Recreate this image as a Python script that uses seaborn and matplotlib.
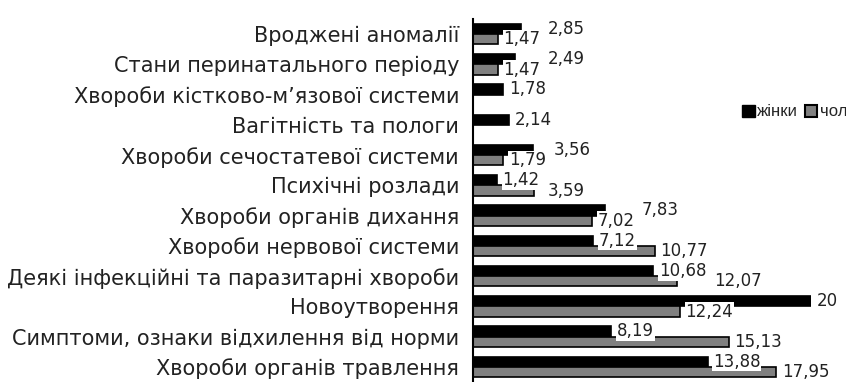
import numpy as np
import pandas as pd
import seaborn as sns
import matplotlib.pyplot as plt
from matplotlib.patches import Patch

# Data
categories = ['Вроджені аномалії', 'Стани перинатального періоду',
              'Хвороби кістково-м’язової системи', 'Вагітність та пологи',
              'Хвороби сечостатевої системи', 'Психічні розлади',
              'Хвороби органів дихання', 'Хвороби нервової системи',
              'Деякі інфекційні та паразитарні хвороби', 'Новоутворення',
              'Симптоми, ознаки відхилення від норми', 'Хвороби органів травлення']
women = [2.85, 2.49, 1.78, 2.14, 3.56, 1.42, 7.83, 7.12, 10.68, 20, 8.19, 13.88]
men = [1.47, 1.47, np.nan, np.nan, 1.79, 3.59, 7.02, 10.77, 12.07, 12.24, 15.13, 17.95]
series = ['жінки', 'чол']

df = pd.DataFrame({
    'cat': categories * 2,
    'val': women + men,
    'sex': [series[0]] * len(categories) + [series[1]] * len(categories),
})

sns.set_style('white')
plt.rcParams['font.family'] = ['DejaVu Sans']

fig = plt.figure(figsize=(8.46, 3.82), dpi=100)
ax = fig.add_axes([473 / 846, 0.0, (811 - 473) / 846, 1 - 19 / 382])

sns.barplot(data=df, y='cat', x='val', hue='sex', orient='h', order=categories,
            hue_order=series, palette=['black', '#808080'], width=0.68,
            edgecolor='black', linewidth=1.2, ax=ax, legend=False)

ax.set_xlim(0, 20)
ax.set_ylim(11.5, -0.5)
ax.set_xlabel('')
ax.set_ylabel('')
ax.set_xticks([])
ax.tick_params(axis='y', length=0, pad=10, labelsize=15, labelcolor='#222222')
for s in ['top', 'right', 'bottom']:
    ax.spines[s].set_visible(False)
ax.spines['left'].set_color('black')
ax.spines['left'].set_linewidth(1.5)

# collect bar ends per row, then label them left to right without overlap
rows = {}
for c in ax.containers:
    for p in c:
        w = p.get_width()
        if np.isnan(w) or w == 0:
            continue
        yc = p.get_y() + p.get_height() / 2
        rows.setdefault(int(round(yc)), []).append((w, yc))

renderer = fig.canvas.get_renderer()
inv = ax.transData.inverted()
for idx, items in rows.items():
    x_next = 0
    for w, yc in sorted(items):
        x = max(w, x_next)
        t = ax.annotate(f"{w:g}".replace('.', ','), xy=(x, yc), xytext=(4, 0),
                        textcoords='offset points', ha='left', va='center',
                        fontsize=12, color='#222222',
                        bbox=dict(facecolor='white', edgecolor='none', pad=0.5))
        bb = t.get_window_extent(renderer)
        x_next = inv.transform((bb.x1 + 2, 0))[0]

handles = [Patch(facecolor='black', edgecolor='black'),
           Patch(facecolor='#808080', edgecolor='black', linewidth=1.5)]
fig.legend(handles, series, loc='center left', bbox_to_anchor=(742 / 846, 1 - 112 / 382),
           ncol=2, frameon=False, handlelength=0.75, handleheight=0.75,
           prop={'family': 'Liberation Sans', 'size': 12},
           handletextpad=0.15, columnspacing=0.4, borderaxespad=0, borderpad=0)

fig.savefig('out.png', dpi=100)
